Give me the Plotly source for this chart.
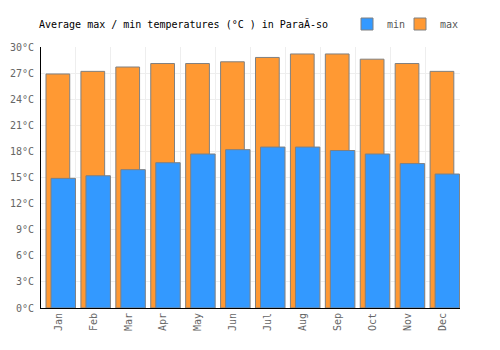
import plotly.graph_objects as go

months = ["Jan", "Feb", "Mar", "Apr", "May", "Jun", "Jul", "Aug", "Sep", "Oct", "Nov", "Dec"]
min_temps = [14.9, 15.2, 15.9, 16.7, 17.7, 18.2, 18.5, 18.5, 18.1, 17.7, 16.6, 15.4]
max_temps = [26.9, 27.2, 27.7, 28.1, 28.1, 28.3, 28.8, 29.2, 29.2, 28.6, 28.1, 27.2]
y_ticks = [0, 3, 6, 9, 12, 15, 18, 21, 24, 27, 30]
y_tick_labels = [f"{v}°C" for v in y_ticks]

FONT = "DejaVu Sans Mono"
BORDER = "#808080"

fig = go.Figure()
fig.add_trace(go.Bar(
    x=months, y=max_temps, name="max", legend="legend2",
    marker=dict(color="#ff9933", line=dict(color=BORDER, width=1)),
    width=0.68, offset=-0.357,
))
fig.add_trace(go.Bar(
    x=months, y=min_temps, name="min", legend="legend",
    marker=dict(color="#3399ff", line=dict(color=BORDER, width=1)),
    width=0.70, offset=-0.213,
))

leg_common = dict(
    orientation="h", xanchor="left", y=1 - 24 / 350, yanchor="middle",
    yref="container", xref="container",
    font=dict(family=FONT, size=10, color="#555555"),
    itemwidth=30, bgcolor="rgba(0,0,0,0)",
)

fig.update_layout(
    width=500, height=350,
    margin=dict(l=41, r=40, t=47, b=42),
    barmode="overlay",
    paper_bgcolor="white", plot_bgcolor="white",
    font=dict(family=FONT, size=10, color="#666666"),
    title=dict(
        text="Average max / min temperatures (°C ) in ParaÃ-so",
        x=39 / 500, xanchor="left", y=1 - 24 / 350, yanchor="middle",
        font=dict(family=FONT, size=10, color="#000000"),
    ),
    showlegend=True,
    legend=dict(x=347 / 500, **leg_common),
    legend2=dict(x=400 / 500, **leg_common),
    xaxis=dict(
        type="category", tickson="boundaries", showgrid=True, gridcolor="#eeeeee", gridwidth=1,
        showline=True, linecolor="#000000", linewidth=1, tickangle=-90,
        ticks="", ticklen=0, range=[-0.5, 11.5], automargin=False,
    ),
    yaxis=dict(
        range=[0, 30], tickvals=y_ticks, ticktext=y_tick_labels,
        showgrid=True, gridcolor="#eeeeee", gridwidth=1,
        showline=True, linecolor="#000000", linewidth=1, zeroline=False,
        ticks="", ticklen=0, ticklabelstandoff=4, automargin=False,
    ),
)

fig.write_html("out.html")
